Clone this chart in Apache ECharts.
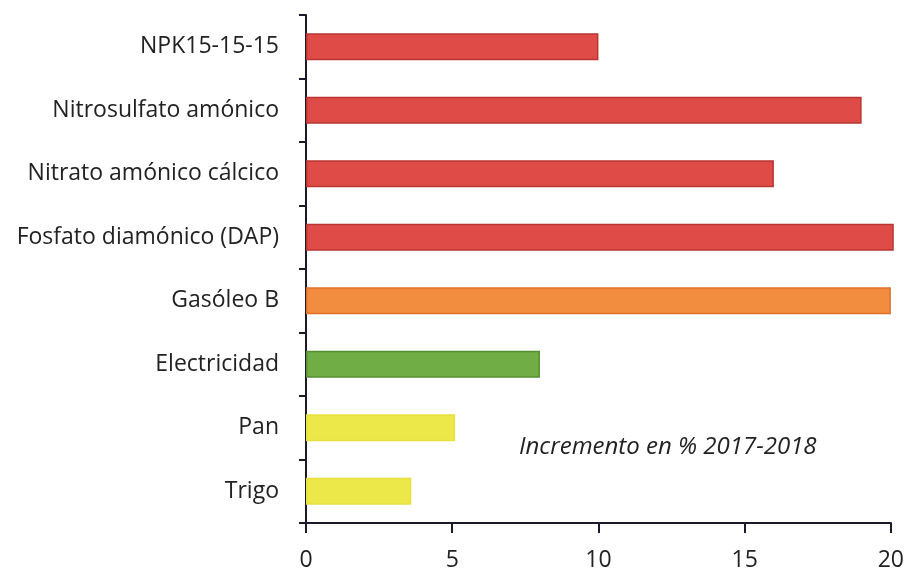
<!DOCTYPE html>
<html>
<head>
<meta charset="utf-8">
<script src="https://cdn.jsdelivr.net/npm/echarts@6/dist/echarts.min.js"></script>
<style>
  html, body { margin: 0; padding: 0; background: #fff; }
  #chart { width: 907px; height: 572px; }
</style>
</head>
<body>
<div id="chart"></div>
<script>
const categories = ['NPK15-15-15', 'Nitrosulfato amónico', 'Nitrato amónico cálcico', 'Fosfato diamónico (DAP)', 'Gasóleo B', 'Electricidad', 'Pan', 'Trigo'];
const values = [10, 19, 16, 20.1, 20, 8, 5.1, 3.6];
const fills = ['#df4c48', '#df4c48', '#df4c48', '#df4c48', '#f28c3e', '#71ad45', '#ede84a', '#ede84a'];
const borders = ['#b93531', '#b93531', '#b93531', '#b93531', '#e0702a', '#558f33', '#e6df3e', '#e6df3e'];
const xTicks = [0, 5, 10, 15, 20];
const note = 'Incremento en % 2017-2018';

const chart = echarts.init(document.getElementById('chart'), null, { renderer: 'canvas' });
const font = '"Open Sans", "Noto Sans", sans-serif';

chart.setOption({
    animation: false,
    title: {
        text: note,
        left: 514,
        top: 430,
        textStyle: { fontFamily: font, fontSize: 24, fontStyle: 'italic', fontWeight: 'normal', color: '#222' }
    },
    grid: { left: 306, right: 12, top: 15, bottom: 47 },
    xAxis: {
        type: 'value',
        min: xTicks[0],
        max: xTicks[xTicks.length - 1],
        interval: 5,
        splitLine: { show: false },
        axisLine: { show: true, lineStyle: { color: '#1a1a2a', width: 2 } },
        axisTick: { show: true, length: 10, lineStyle: { color: '#1a1a2a', width: 2 } },
        axisLabel: { fontFamily: font, fontSize: 23, color: '#222', margin: 26 }
    },
    yAxis: {
        type: 'category',
        inverse: true,
        data: categories,
        axisLine: { show: true, lineStyle: { color: '#1a1a2a', width: 2 } },
        axisTick: { show: true, length: 7, lineStyle: { color: '#1a1a2a', width: 2 } },
        axisLabel: { fontFamily: font, fontSize: 23, color: '#222', margin: 27 }
    },
    series: [{
        type: 'bar',
        clip: false,
        barWidth: 27,
        data: values.map((v, i) => ({
            value: v,
            itemStyle: { color: fills[i], borderColor: borders[i], borderWidth: 1.5 }
        }))
    }]
});
</script>
</body>
</html>
